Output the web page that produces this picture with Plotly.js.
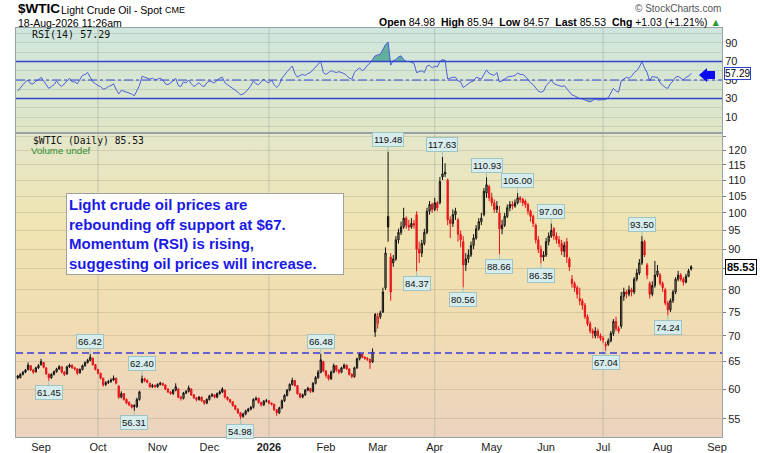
<!DOCTYPE html>
<html><head><meta charset="utf-8">
<script src="https://cdn.plot.ly/plotly-3.0.1.min.js"></script>
<style>html,body{margin:0;padding:0;background:#fff}#chart{width:760px;height:453px}</style>
</head><body><div id="chart"></div>
<script>
// ---------- DATA ----------
const startDate = '2025-08-19';   // first trading day shown; one candle per weekday
const openP = [
62.3,62.0,62.6,63.0,63.5,64.2,63.4,63.1,63.8,64.4,
64.8,63.8,62.6,62.0,62.6,63.1,63.6,64.0,63.0,62.7,
64.0,64.3,63.8,63.6,62.9,63.5,64.2,64.8,65.2,65.6,
64.4,63.5,62.8,61.9,60.8,61.1,61.3,61.6,61.9,60.5,
58.6,59.2,58.2,57.7,57.3,57.2,57.0,58.2,61.2,61.8,
61.5,61.0,60.4,60.6,60.4,60.8,61.0,60.7,60.0,59.5,
59.2,59.8,60.0,58.6,58.4,59.3,59.6,60.0,59.0,58.5,
58.2,58.6,58.0,57.6,58.2,58.8,59.0,58.6,59.2,59.5,
59.8,58.6,58.2,57.8,57.2,56.6,56.0,55.4,55.8,56.3,
56.6,56.9,58.2,58.4,57.7,57.3,57.9,58.0,57.6,57.4,
56.5,56.0,56.8,58.0,58.9,59.8,60.8,61.5,60.6,59.2,
58.6,59.0,59.8,60.1,59.6,61.0,62.0,63.0,65.0,63.2,
62.4,61.8,63.0,64.2,63.4,63.0,63.8,64.3,63.6,62.6,
62.2,63.8,65.5,66.4,65.8,65.6,65.4,64.9,70.8,72.6,
74.0,75.0,80.5,99.0,88.0,86.5,87.5,92.5,94.5,96.0,
98.5,96.5,96.0,97.0,99.5,90.0,89.0,91.5,94.5,100.5,
102.5,101.0,103.0,103.0,111.0,112.5,110.0,98.0,97.0,99.5,
98.0,94.0,92.0,86.0,87.5,88.5,91.0,93.0,95.5,97.5,
99.5,106.0,108.0,104.5,103.0,101.0,100.0,95.5,96.5,99.0,
101.5,102.5,102.0,103.0,104.5,104.0,103.5,102.5,100.5,99.0,
96.5,92.5,90.0,88.0,88.5,92.0,93.5,95.5,93.5,92.5,
91.5,89.5,92.0,87.5,82.5,81.5,80.5,78.0,77.5,76.5,
74.0,72.5,71.0,70.0,71.0,70.0,69.5,68.0,68.3,69.0,
70.5,73.0,71.5,72.0,78.5,79.5,79.0,80.0,79.5,82.5,
84.0,86.5,92.0,86.0,81.5,79.0,81.0,83.5,83.5,81.5,
80.0,77.0,75.5,77.5,79.5,82.5,83.5,82.5,81.8,83.2,84.98];
const highP = [
62.5,62.8,63.2,63.6,64.8,64.3,63.6,64.0,64.5,65.5,
64.9,63.9,62.8,62.8,63.3,63.8,64.3,64.1,63.2,64.2,
64.6,64.4,64.0,63.7,63.7,64.4,65.0,65.5,66.42,65.7,
64.5,63.6,62.9,62.0,61.4,61.6,61.9,62.4,62.0,60.7,
59.6,59.3,58.4,57.9,57.4,57.4,58.5,59.7,62.4,62.0,
61.7,61.1,60.9,60.8,61.0,61.3,61.1,60.8,60.1,59.6,
60.0,61.0,60.1,58.8,59.5,59.8,60.6,60.1,59.1,58.6,
58.8,58.7,58.1,58.4,59.0,59.3,59.1,59.4,59.8,60.3,
59.9,58.7,58.3,57.9,57.3,56.7,56.1,56.0,56.5,56.8,
57.1,58.4,58.7,58.5,57.8,58.1,58.3,58.1,57.7,57.5,
56.6,57.0,58.2,59.1,60.0,61.0,62.0,61.6,60.7,59.3,
59.2,60.0,60.4,60.2,61.2,62.3,63.4,66.48,65.1,63.4,
62.6,63.3,64.6,64.3,63.6,64.0,64.6,64.4,63.7,62.8,
64.0,65.7,66.7,66.5,66.0,65.8,65.5,67.5,74.8,74.8,
75.3,80.5,90.5,119.48,89.0,88.5,93.5,95.5,97.5,101.5,
99.0,98.0,98.5,98.0,100.5,92.0,92.5,95.5,101.5,103.5,
103.0,104.5,103.5,111.0,117.63,115.5,110.5,99.0,101.0,101.5,
98.5,95.0,93.5,89.0,90.0,92.0,94.0,96.5,98.5,100.0,
107.5,110.93,108.5,106.0,104.0,103.5,102.0,98.0,100.0,102.5,
103.5,103.5,104.0,106.0,105.0,104.5,104.0,103.0,101.0,99.5,
97.0,93.5,91.0,89.5,93.0,94.5,97.0,96.0,94.5,93.5,
92.5,92.0,93.0,88.0,83.5,82.0,81.0,80.5,78.0,77.0,
74.5,73.0,71.5,71.8,71.5,70.5,70.0,68.8,69.5,71.0,
73.5,74.0,72.0,79.5,80.5,80.0,81.0,80.5,83.0,85.0,
87.5,93.5,92.5,86.5,82.0,82.0,87.0,86.0,84.0,82.0,
80.5,77.5,78.0,80.0,83.0,84.5,84.0,83.0,83.8,85.0,85.94];
const lowP = [
61.7,61.9,62.4,62.8,63.3,63.2,62.7,62.9,63.6,64.2,
63.7,62.5,61.45,61.8,62.4,62.9,63.4,62.8,62.3,62.5,
63.8,63.6,63.3,62.5,62.7,63.3,64.0,64.6,65.0,64.2,
63.3,62.6,61.7,60.4,60.5,60.9,61.1,61.4,60.8,58.3,
58.4,58.0,57.4,57.1,56.7,56.31,56.8,58.0,61.0,61.2,
61.0,60.2,60.2,60.2,60.2,60.6,60.5,59.8,59.3,59.0,
59.0,59.6,58.4,58.0,58.2,59.1,59.4,58.8,58.3,57.9,
58.0,57.8,57.3,57.4,58.0,58.6,58.4,58.4,59.0,59.3,
58.4,58.0,57.6,57.0,56.4,55.8,54.98,55.2,55.6,56.1,
56.4,56.7,58.0,57.5,57.0,57.1,57.7,57.4,57.2,56.3,
55.5,55.8,56.6,57.8,58.7,59.6,60.6,60.4,59.0,58.4,
58.4,58.8,59.6,59.3,59.4,60.8,61.8,62.8,63.0,62.0,
61.5,61.6,62.8,63.0,62.6,62.8,63.6,63.4,62.4,61.9,
62.0,63.6,65.2,65.6,65.3,65.1,63.6,64.7,69.8,71.5,
73.5,74.8,80.0,92.0,77.5,85.5,87.0,91.5,93.8,95.5,
95.5,95.0,95.5,95.5,84.37,86.5,88.0,91.0,94.0,99.5,
100.0,100.5,100.5,102.5,110.0,111.0,96.5,93.0,96.0,98.0,
92.0,90.5,80.56,84.5,86.5,88.0,90.0,92.5,95.0,96.5,
99.0,104.5,103.5,102.0,100.0,100.0,88.66,94.0,96.0,98.5,
100.5,101.0,101.5,102.5,103.0,102.0,101.5,99.5,97.5,96.0,
91.5,89.0,86.35,87.0,88.0,91.0,93.0,92.5,91.5,90.5,
88.5,88.0,86.5,84.5,80.5,79.5,78.0,76.5,75.5,73.5,
72.0,70.5,69.5,69.5,69.5,69.0,68.5,67.04,68.0,68.7,
70.0,71.0,70.5,71.5,77.5,78.0,78.5,78.5,79.0,82.0,
83.5,86.0,88.0,82.5,78.0,78.5,80.5,83.0,81.0,79.5,
76.5,74.24,75.0,77.0,79.0,82.0,82.0,81.0,81.5,83.0,84.57];
const closeP = [
62.0,62.6,63.0,63.4,64.3,63.4,63.0,63.8,64.2,65.0,
63.9,62.7,62.0,62.6,63.1,63.6,64.0,63.0,62.6,64.0,
64.3,63.8,63.6,62.8,63.5,64.2,64.8,65.2,65.8,64.4,
63.5,62.8,61.9,60.7,61.1,61.3,61.6,61.9,61.0,58.6,
59.2,58.2,57.6,57.3,56.9,57.0,58.2,59.5,61.8,61.5,
61.2,60.4,60.6,60.4,60.8,61.0,60.7,60.0,59.5,59.2,
59.8,60.4,58.6,58.4,59.3,59.6,60.2,59.0,58.5,58.2,
58.6,58.0,57.6,58.2,58.8,59.0,58.6,59.2,59.5,60.0,
58.6,58.2,57.8,57.2,56.6,56.0,55.4,55.8,56.3,56.6,
56.9,58.2,58.4,57.7,57.3,57.9,58.0,57.6,57.4,56.5,
56.0,56.8,58.0,58.9,59.8,60.8,61.5,60.6,59.2,58.6,
59.0,59.8,60.1,59.6,61.0,62.0,63.0,65.3,63.2,62.4,
61.8,63.0,64.2,63.4,63.0,63.8,64.3,63.6,62.6,62.2,
63.8,65.5,66.4,65.8,65.6,65.4,64.8,66.8,74.5,74.0,
74.8,79.5,89.0,96.0,79.5,87.5,92.5,94.5,96.0,98.5,
96.5,96.0,97.0,96.5,90.0,89.0,91.5,94.5,100.5,102.5,
101.0,103.0,101.5,109.5,112.0,112.0,98.0,97.0,99.5,100.5,
94.0,92.5,86.0,87.5,88.5,91.0,93.0,95.5,97.5,98.5,
106.5,108.5,104.5,103.0,101.0,102.0,95.5,96.5,99.0,101.5,
102.5,102.0,103.0,104.5,104.0,103.0,102.5,100.5,99.0,97.0,
92.5,90.0,88.0,88.5,92.0,93.5,95.0,93.5,92.5,91.5,
89.5,91.0,88.0,85.5,81.5,80.5,79.0,77.5,76.5,74.0,
72.5,71.0,70.5,71.0,70.0,69.5,69.2,68.3,69.0,70.5,
73.0,71.5,71.0,78.5,79.5,79.0,80.0,79.5,82.5,84.0,
86.5,92.0,88.5,83.5,79.0,81.0,83.5,84.5,81.5,80.5,
77.0,75.5,77.5,79.5,82.5,83.5,82.5,81.8,83.2,84.5,85.53];
const rsiVals = [
38,42,45,48,50,46,46,49,50,53,
49,46,41,43,45,49,45,43,46,49,
52,48,48,46,50,55,56,58,53,48,
46,44,43,40,41,43,44,46,40,35,
39,38,37,36,35,33,38,44,54,53,
52,51,52,50,51,52,50,46,45,47,
49,52,44,43,48,47,50,46,43,45,
47,44,43,47,49,48,47,50,52,53,
47,45,43,41,39,37,34,35,37,40,
44,49,46,45,48,51,48,47,50,45,
42,45,52,56,59,62,65,57,53,55,
56,55,57,58,61,63,66,70,58,56,
58,60,59,58,59,58,57,55,52,51,
58,61,63,60,62,66,68,72,76,77,
78,83,88,91,66,71,72,75,76,72,
70,70,69,68,58,59,60,58,65,66,
63,65,64,70,72,71,51,52,53,53,
49,48,42,44,46,48,49,53,52,51,
56,61,57,56,55,58,48,49,51,53,
54,54,55,57.6,56,56,54,50,47,45,
41,38,37,38,44,47,50,46,45,44,
43,44,41,37,34,33,31,30,29.5,28.5,
27,26.5,28,29.5,28.5,28.5,28.5,29,31,36,
41,38,37,49,51,53,52,54,58,60,
64,70,63,58,49,54,53,53,47,44,
42,41,46,49,53,54,52,50,53,54,57.29];

const monthTickDates = ['2025-09-01','2025-10-01','2025-11-03','2025-12-01','2026-01-01','2026-02-02','2026-03-02','2026-04-01','2026-05-01','2026-06-01','2026-07-01','2026-08-03','2026-09-01'];
const monthTickText = ['Sep','Oct','Nov','Dec','<b>2026</b>','Feb','Mar','Apr','May','Jun','Jul','Aug','Sep'];
const quarterDates = ['2025-10-01','2026-01-01','2026-04-01','2026-07-01'];
const peakDates = ['2025-09-26','2025-10-24','2026-01-29','2026-03-06','2026-04-06','2026-04-29','2026-05-15','2026-06-03','2026-07-22'];
const peakValues = [66.42,62.40,66.48,119.48,117.63,110.93,106.00,97.00,93.50];
const troughDates = ['2025-09-04','2025-10-21','2025-12-17','2026-03-23','2026-04-16','2026-05-06','2026-05-28','2026-07-02','2026-08-05'];
const troughValues = [61.45,56.31,54.98,84.37,80.56,88.66,86.35,67.04,74.24];
const supportLevel = 66.6;
const priceTicks = [55,60,65,70,75,80,85,90,95,100,105,110,115,120,125];
const rsiGrid = [0,10,20,30,40,50,60,70,80,90,100];
const rsiLabels = ['','10','','30','','50','','70','','90',''];
const xRange = ['2025-08-18 08:00','2026-09-02 22:00'];
const lastClose = 85.53, lastRsi = 57.29;

// ---------- build ----------
const dates = [];
{
  const d = new Date(startDate + 'T00:00:00Z');
  while (dates.length < closeP.length) {
    const wd = d.getUTCDay();
    if (wd !== 0 && wd !== 6) dates.push(d.toISOString().slice(0,10));
    d.setUTCDate(d.getUTCDate() + 1);
  }
}
const FONT = 'Liberation Sans, Arial, sans-serif';
const MONO = 'DejaVu Sans Mono, monospace';
const SPLIT = 0.7433;
// pixel helpers for decorations drawn outside the data (paper coordinates)
const PX = px => (px - 16) / 706, PY = py => (437 - py) / 409;

function grad(stops){
  const s = stops.map(([o,c]) => `<stop offset='${o}' stop-color='${c}'/>`).join('');
  const svg = `<svg xmlns='http://www.w3.org/2000/svg' width='100' height='100' preserveAspectRatio='none'><defs><linearGradient id='g' x1='0' y1='0' x2='0' y2='1'>${s}</linearGradient></defs><rect width='100' height='100' fill='url(#g)'/></svg>`;
  return 'data:image/svg+xml;charset=utf-8,' + encodeURIComponent(svg);
}

// StockCharts colouring: black when close >= previous close, red otherwise
const blackIdx = [], redIdx = [];
closeP.forEach((c,i)=>{ (i===0 || c >= closeP[i-1]) ? blackIdx.push(i) : redIdx.push(i); });
const pick = (arr, idx) => idx.map(i=>arr[i]);
function candles(idx, upLine, upFill, dnLine, dnFill){
  return {type:'candlestick', x:pick(dates,idx), open:pick(openP,idx), high:pick(highP,idx),
    low:pick(lowP,idx), close:pick(closeP,idx), xaxis:'x', yaxis:'y', whiskerwidth:0, hoverinfo:'skip',
    increasing:{line:{color:upLine, width:1}, fillcolor:upFill},
    decreasing:{line:{color:dnLine, width:1}, fillcolor:dnFill}};
}

const traces = [
  candles(redIdx, '#e8141a', 'rgba(240,110,110,0.35)', '#e8141a', '#f01c1c'),
  candles(blackIdx, '#111111', 'rgba(110,105,85,0.45)', '#111111', '#111111'),
  {type:'scatter', mode:'lines', x:xRange, y:[supportLevel, supportLevel], xaxis:'x', yaxis:'y',
   line:{color:'#3a3ad8', width:1.6, dash:'7px,4px'}, hoverinfo:'skip'},
  {type:'scatter', mode:'lines', x:dates, y:dates.map(()=>70), xaxis:'x2', yaxis:'y2', line:{width:0}, hoverinfo:'skip'},
  {type:'scatter', mode:'lines', x:dates, y:rsiVals.map(v=>Math.max(v,70)), xaxis:'x2', yaxis:'y2',
   line:{width:0}, fill:'tonexty', fillcolor:'rgba(70,160,145,0.8)', hoverinfo:'skip'},
  {type:'scatter', mode:'lines', x:dates, y:dates.map(()=>30), xaxis:'x2', yaxis:'y2', line:{width:0}, hoverinfo:'skip'},
  {type:'scatter', mode:'lines', x:dates, y:rsiVals.map(v=>Math.min(v,30)), xaxis:'x2', yaxis:'y2',
   line:{width:0}, fill:'tonexty', fillcolor:'rgba(70,160,145,0.5)', hoverinfo:'skip'},
  {type:'scatter', mode:'lines', x:dates, y:rsiVals, xaxis:'x2', yaxis:'y2',
   line:{color:'#4f5fd8', width:1}, hoverinfo:'skip'}
];

const annotations = [];
const lab = {font:{family:FONT, size:9.5, color:'#111'}, bgcolor:'#d7ecec', bordercolor:'#9fc4c4',
  borderwidth:1, borderpad:1, showarrow:true, arrowhead:0, arrowwidth:1, arrowcolor:'#9fc4c4', ax:0, standoff:0, xref:'x', yref:'y'};
peakDates.forEach((dt,i)=>annotations.push(Object.assign({}, lab, {x:dt, y:Math.log10(peakValues[i]), text:peakValues[i].toFixed(2), ay:-12})));
troughDates.forEach((dt,i)=>annotations.push(Object.assign({}, lab, {x:dt, y:Math.log10(troughValues[i]), text:troughValues[i].toFixed(2), ay:12})));

const NB = '\u00a0';
annotations.push(
  {xref:'paper', yref:'paper', x:0, y:1.0465, xanchor:'left', yanchor:'middle', showarrow:false,
   text:'<b>$WTIC</b>', font:{family:FONT, size:13.5, color:'#000'}},
  {xref:'paper', yref:'paper', x:0.0609, y:1.0445, xanchor:'left', yanchor:'middle', showarrow:false,
   text:'Light Crude Oil - Spot', font:{family:FONT, size:10.5, color:'#000'}},
  {xref:'paper', yref:'paper', x:0.2082, y:1.0435, xanchor:'left', yanchor:'middle', showarrow:false,
   text:'CME', font:{family:FONT, size:9, color:'#000'}},
  {xref:'paper', yref:'paper', x:0, y:1.0134, xanchor:'left', yanchor:'middle', showarrow:false,
   text:'18-Aug-2026 11:26am', font:{family:FONT, size:10.5, color:'#000'}},
  {xref:'paper', yref:'paper', x:1.0014, y:1.0465, xanchor:'right', yanchor:'middle', showarrow:false,
   text:'© StockCharts.com', font:{family:FONT, size:10, color:'#555'}},
  {xref:'paper', yref:'paper', x:1.0014, y:1.0147, xanchor:'right', yanchor:'middle', showarrow:false,
   text:'<b>Open</b> 84.98'+NB+NB+'<b>High</b> 85.94'+NB+NB+'<b>Low</b> 84.57'+NB+NB+'<b>Last</b> 85.53'+NB+NB+'<b>Chg</b> +1.03 (+1.21%) <span style="color:#2a9a2a">▲</span>',
   font:{family:FONT, size:10.5, color:'#000'}},
  {xref:'paper', yref:'paper', x:0.0198, y:0.9829, xanchor:'left', yanchor:'middle', showarrow:false,
   text:'RSI(14) 57.29', font:{family:MONO, size:10, color:'#111'}},
  {xref:'paper', yref:'paper', x:0.0212, y:0.725, xanchor:'left', yanchor:'middle', showarrow:false,
   text:'$WTIC (Daily) 85.53', font:{family:MONO, size:9.7, color:'#111'}},
  {xref:'paper', yref:'paper', x:0.0184, y:0.7005, xanchor:'left', yanchor:'middle', showarrow:false,
   text:'Volume undef', font:{family:FONT, size:9.7, color:'#2e8b2e'}},
  {xref:'paper', yref:'paper', x:0.0708, y:0.5966, xanchor:'left', yanchor:'top', showarrow:false,
   align:'left', valign:'middle', width:272, height:76,
   text:'<b>Light crude oil prices are<br>rebounding off support at $67.<br>Momentum (RSI) is rising,<br>suggesting oil prices will increase.</b>',
   font:{family:FONT, size:15, color:'#1a1ae6'}, bgcolor:'#ffffff', bordercolor:'#a0a0a0', borderwidth:1, borderpad:2},
  {xref:'paper', yref:'y', x:1.0045, y:Math.log10(lastClose), xanchor:'left', yanchor:'middle', showarrow:false,
   text:'<b>'+lastClose.toFixed(2)+'</b>', font:{family:FONT, size:11, color:'#000'},
   bgcolor:'#ffffff', bordercolor:'#000', borderwidth:1, borderpad:1},
  {xref:'paper', yref:'y2', x:1.003, y:lastRsi, xanchor:'left', yanchor:'middle', showarrow:false,
   text:lastRsi.toFixed(2), font:{family:FONT, size:10, color:'#000'},
   bgcolor:'#ffffff', bordercolor:'#2d3fd0', borderwidth:1, borderpad:0}
);

const shapes = [];
quarterDates.forEach(q=>{
  shapes.push({type:'line', xref:'x', yref:'paper', x0:q, x1:q, y0:0, y1:1, layer:'below',
    line:{color:'rgba(150,160,150,0.45)', width:1}});
});
[70,30].forEach(v=>shapes.push({type:'line', xref:'paper', yref:'y2', x0:0, x1:1, y0:v, y1:v,
  line:{color:'#3346d0', width:1.5}}));
shapes.push({type:'line', xref:'paper', yref:'y2', x0:0, x1:1, y0:50, y1:50,
  line:{color:'#3346d0', width:1, dash:'dashdot'}});
// blue pointer arrow next to the RSI value
shapes.push({type:'path', xref:'paper', yref:'paper', fillcolor:'#0a0aee', line:{width:0},
  path:`M${PX(699)},${PY(75)} L${PX(707)},${PY(68)} L${PX(707)},${PY(71)} L${PX(715)},${PY(71)} L${PX(715)},${PY(79)} L${PX(707)},${PY(79)} L${PX(707)},${PY(82)} Z`});

const images = [
  {source:grad([[0,'#cfe6de'],[1,'#e1e6c5']]), xref:'paper', yref:'paper', x:0, y:1, sizex:1, sizey:1-SPLIT,
   xanchor:'left', yanchor:'top', sizing:'stretch', layer:'below'},
  {source:grad([[0,'#e3e7cb'],[0.3,'#f0e4b2'],[0.6,'#f1ddb2'],[1,'#ecd3be']]), xref:'paper', yref:'paper', x:0, y:SPLIT, sizex:1, sizey:SPLIT,
   xanchor:'left', yanchor:'top', sizing:'stretch', layer:'below'}
];

const axLine = '#97a3a8';
const layout = {
  width:760, height:453, margin:{l:16, r:38, t:28, b:16},
  paper_bgcolor:'#ffffff', plot_bgcolor:'rgba(0,0,0,0)', showlegend:false,
  font:{family:FONT, size:11, color:'#222'},
  xaxis:{type:'date', domain:[0,1], anchor:'y', range:xRange, rangebreaks:[{bounds:['sat','mon']}],
    tickmode:'array', tickvals:monthTickDates, ticktext:monthTickText, ticks:'', showgrid:false,
    showline:true, mirror:true, linecolor:axLine, linewidth:1, tickfont:{size:11, color:'#222'},
    rangeslider:{visible:false}, fixedrange:true},
  xaxis2:{type:'date', domain:[0,1], anchor:'y2', matches:'x', rangebreaks:[{bounds:['sat','mon']}],
    showticklabels:false, ticks:'', showgrid:false, showline:true, mirror:true, linecolor:axLine, fixedrange:true},
  yaxis:{type:'log', domain:[0,SPLIT], anchor:'x', side:'right',
    range:[Math.log10(52.2), Math.log10(126.1)], tickmode:'array', tickvals:priceTicks,
    ticktext:priceTicks.map(v=>(v<125 && v!==85)?String(v):''), showgrid:true, gridcolor:'rgba(175,165,135,0.38)',
    ticks:'outside', ticklen:3, tickcolor:'#777', showline:true, mirror:true, linecolor:axLine,
    zeroline:false, tickfont:{size:11, color:'#222'}, fixedrange:true},
  yaxis2:{domain:[SPLIT,1], anchor:'x2', side:'right', range:[-7,106], tickmode:'array',
    tickvals:rsiGrid, ticktext:rsiLabels, showgrid:true, gridcolor:'rgba(150,170,160,0.35)',
    ticks:'', showline:true, mirror:true, linecolor:axLine, zeroline:false,
    tickfont:{size:11, color:'#222'}, fixedrange:true},
  annotations, shapes, images
};

Plotly.newPlot('chart', traces, layout, {staticPlot:true, displayModeBar:false});
</script>
</body></html>
